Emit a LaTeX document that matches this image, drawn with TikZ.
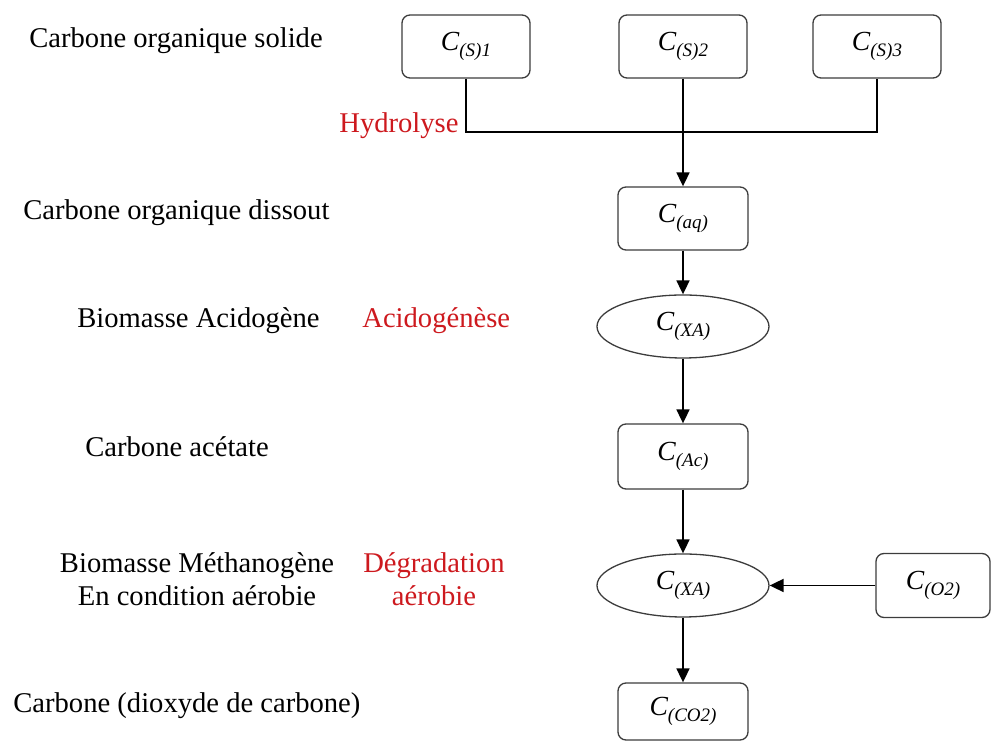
\documentclass[tikz,border=0pt]{standalone}
\usepackage{fontspec}
\setmainfont{Liberation Serif}
\usetikzlibrary{arrows.meta,shapes.geometric}
\definecolor{labred}{RGB}{205,25,30}
\definecolor{boxgrey}{RGB}{60,60,60}
\newcommand{\Cl}[1]{{\fontsize{13.8}{15}\selectfont\itshape C\raisebox{-3.2pt}{\fontsize{9.5}{10}\selectfont #1}}}
\begin{document}
\begin{tikzpicture}[x=0.5pt,y=-0.5pt,
  lab/.style={anchor=base west,inner sep=0,font=\fontsize{14.3}{17}\selectfont},
  redlab/.style={lab,text=labred},
  cbox/.style={draw=boxgrey,line width=0.65pt,rounded corners=4pt,minimum width=64pt,minimum height=31.5pt,inner sep=0},
  cell/.style={draw=boxgrey,line width=0.65pt,ellipse,minimum width=86pt,minimum height=31.5pt,inner sep=0},
  flow/.style={line width=0.9pt,-{Triangle[length=7pt,width=6.5pt]}},
  link/.style={line width=0.9pt}]
\useasboundingbox (0,0) rectangle (993,742);
% left labels
\node[lab] (t1) at (29,48) {Carbone organique solide};
\node[lab] (t2) at (23,220) {Carbone organique dissout};
\node[lab] (t3) at (77,328) {Biomasse Acidogène};
\node[lab] (t4) at (85,457) {Carbone acétate};
\node[lab,anchor=base] (t5) at (197,573) {Biomasse Méthanogène};
\node[lab,anchor=base] (t6) at (197,606) {En condition aérobie};
\node[lab] (t7) at (13,713) {Carbone (dioxyde de carbone)};
% red labels
\node[redlab] (r1) at (339,133) {Hydrolyse};
\node[redlab] (r2) at (362,328) {Acidogénèse};
\node[redlab,anchor=base] (r3) at (434,573) {Dégradation};
\node[redlab,anchor=base] (r4) at (434,606) {aérobie};
% boxes
\node[cbox] (s1) at (466,46.5) {\Cl{(S)1}};
\node[cbox] (s2) at (683,46.5) {\Cl{(S)2}};
\node[cbox] (s3) at (877,46.5) {\Cl{(S)3}};
\node[cbox,minimum width=65pt] (aq) at (683,218.5) {\Cl{(aq)}};
\node[cell] (e1) at (683,326.5) {\Cl{(XA)}};
\node[cbox,minimum width=65pt,minimum height=32.5pt] (ac) at (683,456.5) {\Cl{(Ac)}};
\node[cell] (e2) at (683,585.5) {\Cl{(XA)}};
\node[cbox,minimum width=57pt,minimum height=32pt] (o2) at (933,585.5) {\Cl{(O2)}};
\node[cbox,minimum width=65pt,minimum height=28.5pt] (co2) at (683,711.5) {\Cl{(CO2)}};
% connectors
\coordinate (j) at (683,132);
\draw[link] (s1.south) |- (j) -| (s3.south);
\draw[flow] (s2.south) -- (aq.north);
\draw[flow] (aq.south) -- (e1.north);
\draw[flow] (e1.south) -- (ac.north);
\draw[flow] (ac.south) -- (e2.north);
\draw[flow] (o2.west) -- (e2.east);
\draw[flow] (e2.south) -- (co2.north);
\end{tikzpicture}
\end{document}
